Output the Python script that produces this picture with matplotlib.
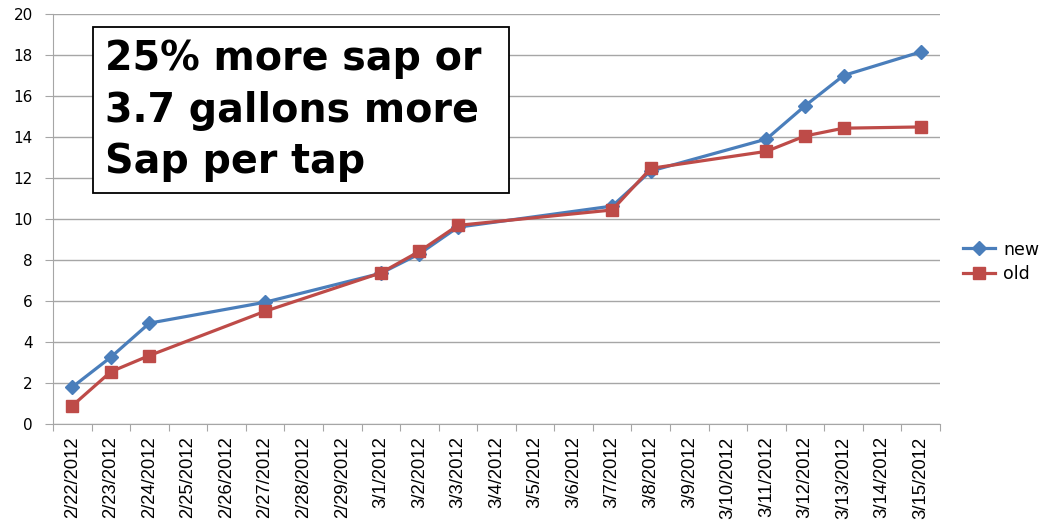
import matplotlib
matplotlib.use("Agg")
import matplotlib.pyplot as plt
import matplotlib.dates as mdates
import pandas as pd
from matplotlib.patches import Rectangle

# all days shown on the axis
all_days = pd.date_range("2012-02-22", "2012-03-15", freq="D")

# sampled days and cumulative sap per tap (gallons)
days = pd.to_datetime(["2012-02-22", "2012-02-23", "2012-02-24", "2012-02-27",
                       "2012-03-01", "2012-03-02", "2012-03-03", "2012-03-07",
                       "2012-03-08", "2012-03-11", "2012-03-12", "2012-03-13",
                       "2012-03-15"])
new = [1.8, 3.26, 4.92, 5.94, 7.35, 8.3, 9.6, 10.63, 12.34, 13.9, 15.52, 17.0, 18.15]
old = [0.89, 2.55, 3.34, 5.5, 7.37, 8.42, 9.69, 10.44, 12.47, 13.3, 14.05, 14.43, 14.49]

note_lines = ["25% more sap or", "3.7 gallons more", "Sap per tap"]

grey = "#a6a6a6"
W, H = 1042, 525

fig = plt.figure(figsize=(10.42, 5.25), dpi=100)
ax = fig.add_axes([53 / W, 1 - 424 / H, 887 / W, 410 / H])

x_new = mdates.date2num(days)
ax.plot(x_new, new, color="#4A7EBB", lw=2.3, marker="D", ms=7.5, label="new", zorder=3)
ax.plot(x_new, old, color="#BE4B48", lw=2.3, marker="s", ms=8.5, label="old", zorder=4)

xd = mdates.date2num(all_days)
ax.set_xlim(xd[0] - 0.5, xd[-1] + 0.5)
ax.set_ylim(0, 20)
ax.set_yticks(range(0, 21, 2))
for t in ax.get_yticklabels():
    t.set_fontsize(11)

# ticks between the days, labels centred on the days
ax.set_xticks(list(xd - 0.5) + [xd[-1] + 0.5])
ax.set_xticklabels([])
ax.set_xticks(xd, minor=True)
ax.set_xticklabels([f"{d.month}/{d.day}/{d.year}" for d in all_days], minor=True,
                   rotation=90, fontsize=13.3, va="top", family="Liberation Sans")
ax.tick_params(axis="x", which="minor", length=0, pad=9)
ax.tick_params(axis="x", which="major", length=5, color=grey, direction="out")
ax.tick_params(axis="y", length=5.5, color=grey, pad=9)

ax.yaxis.grid(True, color=grey, lw=1)
ax.set_axisbelow(True)
for s in ["top", "right"]:
    ax.spines[s].set_visible(False)
for s in ["left", "bottom"]:
    ax.spines[s].set_color(grey)

fig.legend(*ax.get_legend_handles_labels(), loc="center left",
           bbox_to_anchor=(963 / W, 1 - 262 / H), frameon=False,
           fontsize=12.5, handlelength=1.85, handletextpad=0.45, labelspacing=0.4,
           borderaxespad=0, borderpad=0)

fig.patches.append(Rectangle((93 / W, 1 - 193 / H), 416 / W, 166 / H, transform=fig.transFigure,
                             fill=True, facecolor="white", edgecolor="black", lw=1.3, zorder=5))
for line, base in zip(note_lines, [70, 122, 173]):
    fig.text(105 / W, 1 - base / H, line, fontsize=28.5, fontweight="bold",
             va="baseline", ha="left", zorder=6)

fig.savefig("out.png", dpi=100)
